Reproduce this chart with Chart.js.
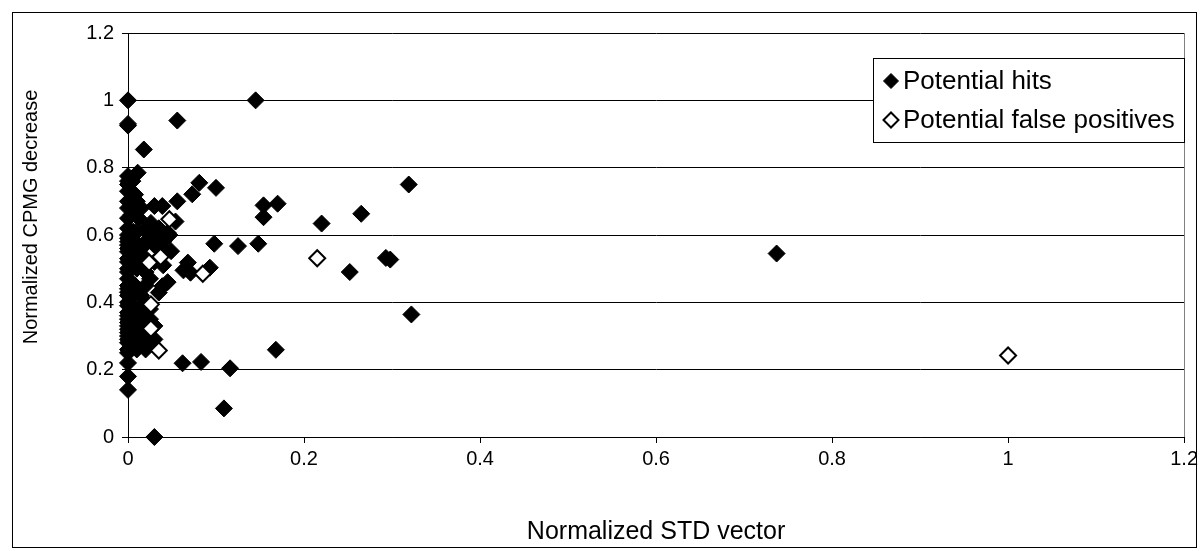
<!DOCTYPE html>
<html><head><meta charset="utf-8">
<script src="https://cdn.jsdelivr.net/npm/chart.js@4/dist/chart.umd.min.js"></script>
<style>html,body{margin:0;padding:0;background:#fff;overflow:hidden}canvas{display:block}</style>
</head><body>
<canvas id="c" width="1202" height="551"></canvas>
<script>
const seriesNames = ['Potential hits', 'Potential false positives'];
const xTitle = 'Normalized STD vector';
const yTitle = 'Normalized CPMG decrease';
const xTickLabels = ['0', '0.2', '0.4', '0.6', '0.8', '1', '1.2'];
const yTickLabels = ['0', '0.2', '0.4', '0.6', '0.8', '1', '1.2'];

const hitsX = [
  0, 0, 0, 0, 0, 0, 0, 0, 0, 0, 0, 0, 0, 0, 0, 0, 0, 0, 0, 0, 0, 0,
  0, 0, 0, 0, 0, 0, 0, 0, 0, 0, 0, 0, 0, 0, 0, 0, 0, 0, 0, 0, 0,
  0.011, 0.005, 0.008, 0.004, 0.006, 0.009, 0.012, 0.005, 0.010, 0.008, 0.006, 0.010, 0.013, 0.007, 0.011, 0.015, 0.004,
  0.018, 0.056, 0.030, 0.039, 0.056, 0.073, 0.081, 0.100,
  0.026, 0.054, 0.020, 0.028, 0.035, 0.025, 0.045, 0.047, 0.020, 0.030, 0.015, 0.040, 0.049, 0.020, 0.030,
  0.068, 0.071, 0.063, 0.039, 0.035, 0.040, 0.045,
  0.028, 0.018, 0.020, 0.015, 0.025, 0.020, 0.030, 0.025,
  0.020, 0.015, 0.020, 0.030, 0.015, 0.010, 0.040, 0.035, 0.012, 0.015, 0.010, 0.020, 0.025, 0.015,
  0.062, 0.083, 0.030,
  0.154, 0.170, 0.154, 0.220, 0.265, 0.319, 0.098, 0.125, 0.148, 0.252, 0.293, 0.298, 0.093, 0.322, 0.168, 0.116, 0.109, 0.145, 0.737
];
const hitsY = [
  1.00, 0.93, 0.925, 0.775, 0.76, 0.75, 0.73, 0.70, 0.68, 0.65, 0.62, 0.60, 0.59, 0.58, 0.57, 0.56, 0.55, 0.53, 0.52, 0.50, 0.49, 0.47,
  0.45, 0.44, 0.43, 0.42, 0.40, 0.39, 0.37, 0.36, 0.35, 0.34, 0.33, 0.32, 0.31, 0.30, 0.29, 0.28, 0.26, 0.25, 0.22, 0.18, 0.14,
  0.785, 0.76, 0.72, 0.66, 0.61, 0.607, 0.57, 0.55, 0.50, 0.45, 0.42, 0.38, 0.35, 0.32, 0.28, 0.30, 0.27,
  0.854, 0.94, 0.686, 0.686, 0.70, 0.721, 0.755, 0.74,
  0.636, 0.64, 0.62, 0.61, 0.62, 0.60, 0.607, 0.60, 0.58, 0.57, 0.56, 0.56, 0.552, 0.53, 0.52,
  0.518, 0.488, 0.495, 0.448, 0.429, 0.51, 0.46,
  0.275, 0.295, 0.33, 0.36, 0.35, 0.26, 0.29, 0.38,
  0.45, 0.42, 0.40, 0.33, 0.31, 0.26, 0.58, 0.60, 0.65, 0.68, 0.70, 0.49, 0.47, 0.53,
  0.219, 0.223, 0.0,
  0.688, 0.693, 0.653, 0.634, 0.663, 0.750, 0.574, 0.567, 0.574, 0.490, 0.532, 0.527, 0.503, 0.364, 0.259, 0.204, 0.085, 1.0, 0.545
];
const fpX = [0.047, 0.024, 0.037, 0.085, 0.215, 0.026, 0.026, 0.035, 1.0];
const fpY = [0.647, 0.518, 0.535, 0.485, 0.531, 0.394, 0.322, 0.257, 0.242];

const toPts = (xs, ys) => xs.map((x, i) => ({x: x, y: ys[i]}));
const FONT = '"Liberation Sans", Arial, sans-serif';

const framePlugin = {
  id: 'frame',
  beforeDraw(chart) {
    const ctx = chart.ctx;
    ctx.save();
    ctx.fillStyle = '#fff';
    ctx.fillRect(0, 0, chart.width, chart.height);
    ctx.restore();
  },
  afterDraw(chart) {
    const ctx = chart.ctx;
    const a = chart.chartArea;
    ctx.save();
    ctx.strokeStyle = '#000';
    ctx.lineWidth = 1;
    ctx.strokeRect(12.5, 12.5, 1184, 535);
    ctx.strokeStyle = '#808080';
    ctx.beginPath();
    ctx.moveTo(Math.round(a.right) + 0.5, a.top);
    ctx.lineTo(Math.round(a.right) + 0.5, a.bottom);
    ctx.stroke();
    ctx.fillStyle = '#000';
    ctx.font = '20px ' + FONT;
    ctx.textAlign = 'center';
    ctx.textBaseline = 'middle';
    ctx.translate(31, 217);
    ctx.rotate(-Math.PI / 2);
    ctx.fillText(yTitle, 0, 0);
    ctx.restore();

    ctx.save();
    const lx = 873.5, ly = 58.5, lw = 311, lh = 84;
    ctx.fillStyle = '#fff';
    ctx.fillRect(lx, ly, lw, lh);
    ctx.strokeStyle = '#000';
    ctx.lineWidth = 1;
    ctx.strokeRect(lx, ly, lw, lh);
    const rows = [81, 120];
    chart.data.datasets.slice().sort((p, q) => p.legendIndex - q.legendIndex).forEach((ds, i) => {
      const cy = rows[i], cx = 891, r = 7.5;
      ctx.beginPath();
      ctx.moveTo(cx - r, cy); ctx.lineTo(cx, cy - r); ctx.lineTo(cx + r, cy); ctx.lineTo(cx, cy + r); ctx.closePath();
      ctx.fillStyle = ds.backgroundColor;
      ctx.fill();
      ctx.lineWidth = ds.borderWidth;
      ctx.strokeStyle = '#000';
      ctx.stroke();
      ctx.fillStyle = '#000';
      ctx.font = '26px ' + FONT;
      ctx.textAlign = 'left';
      ctx.textBaseline = 'middle';
      ctx.fillText(ds.label, 903, cy + 1);
    });
    ctx.restore();
  }
};

new Chart(document.getElementById('c'), {
  type: 'scatter',
  data: {
    datasets: [
      {
        label: seriesNames[0], legendIndex: 0, order: 2, clip: false,
        data: toPts(hitsX, hitsY),
        pointStyle: 'rectRot', radius: 8.5, hoverRadius: 8.5,
        backgroundColor: '#000', borderColor: '#000', borderWidth: 1
      },
      {
        label: seriesNames[1], legendIndex: 1, order: 1, clip: false,
        data: toPts(fpX, fpY),
        pointStyle: 'rectRot', radius: 8, hoverRadius: 8,
        backgroundColor: '#fff', borderColor: '#000', borderWidth: 2
      }
    ]
  },
  options: {
    responsive: false,
    animation: false,
    devicePixelRatio: 1,
    layout: { padding: { left: 0, right: 14, top: 33, bottom: 0 } },
    plugins: { legend: { display: false }, tooltip: { enabled: false } },
    scales: {
      x: {
        type: 'linear', min: 0, max: 1.2,
        afterFit(s) { s.height = 114; },
        ticks: {
          stepSize: 0.2, color: '#000', padding: 4,
          font: { family: FONT, size: 20 },
          callback: (v) => xTickLabels[Math.round(v / 0.2)]
        },
        grid: { drawOnChartArea: false, drawTicks: true, tickLength: 6, color: '#000' },
        border: { color: '#000', width: 1 },
        title: {
          display: true, text: xTitle, color: '#000',
          font: { family: FONT, size: 25 }, padding: { top: 0, bottom: 4 }
        }
      },
      y: {
        type: 'linear', min: 0, max: 1.2,
        afterFit(s) { s.width = 128; },
        ticks: {
          stepSize: 0.2, color: '#000', padding: 8,
          font: { family: FONT, size: 20 },
          callback: (v) => yTickLabels[Math.round(v / 0.2)]
        },
        grid: { color: '#000', lineWidth: 1, tickLength: 6, drawTicks: true },
        border: { color: '#000', width: 1 }
      }
    }
  },
  plugins: [framePlugin]
});
</script>
</body></html>
